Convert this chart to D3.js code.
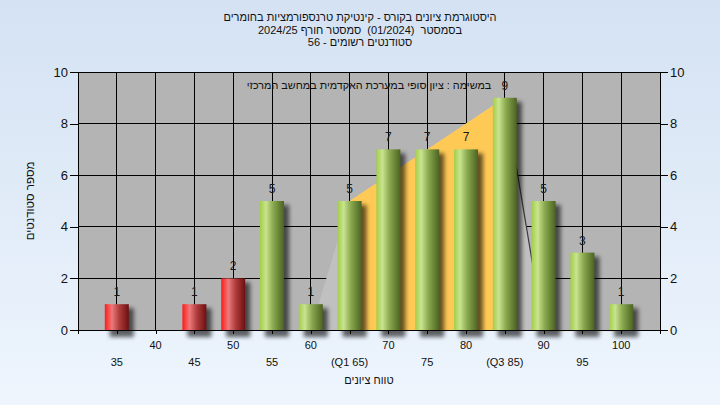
<!DOCTYPE html>
<html><head><meta charset="utf-8">
<script src="https://cdn.jsdelivr.net/npm/d3@7"></script>
<style>
html,body{margin:0;padding:0;overflow:hidden;}
svg{display:block;font-family:"Liberation Sans",Arial,sans-serif;}
text{white-space:pre;}
</style></head>
<body>
<svg id="chart" width="720" height="405"></svg>
<script>
// ---- data ----
const categories = [35,40,45,50,55,60,65,70,75,80,85,90,95,100];
const counts     = [1,0,1,2,5,1,5,7,7,7,9,5,3,1];
const tickLabels = ["35","40","45","50","55","60","(Q1 65)","70","75","80","(Q3 85)","90","95","100"];
const yTicks = [0,2,4,6,8,10];
const passMark = 55;
const q1 = 65, q3 = 85;
const iqrValues = [5,9];             // bar heights at Q1 and Q3
const spreadX = [60,65,85,90];       // light distribution polygon
const spreadY = [0,5,9,0];
const titleLines = [
  "היסטוגרמת ציונים בקורס - קינטיקת טרנספורמציות בחומרים",
  "בסמסטר  (01/2024)  סמסטר חורף 2024/25",
  "סטודנטים רשומים - 56"
];
const noteText = "במשימה : ציון סופי במערכת האקדמית במחשב המרכזי";
const xTitle = "טווח ציונים";
const yTitle = "מספר סטודנטים";

// ---- layout ----
const W = 720, H = 405;
const L = 78, R = 660, T = 72, B = 330;
const svg = d3.select("#chart");
const x = d3.scaleLinear().domain([30,105]).range([L,R]);
const y = d3.scaleLinear().domain([0,10]).range([B,T]);
const barW = 24;

const defs = svg.append("defs");
const bg = defs.append("linearGradient").attr("id","bg").attr("x1",0).attr("y1",0).attr("x2",0).attr("y2",1);
bg.append("stop").attr("offset","0%").attr("stop-color","#d4e2f3");
bg.append("stop").attr("offset","100%").attr("stop-color","#eef5fd");

function cyl(id, stops){
  const g = defs.append("linearGradient").attr("id",id).attr("x1",0).attr("y1",0).attr("x2",1).attr("y2",0);
  stops.forEach(s=>g.append("stop").attr("offset",s[0]).attr("stop-color",s[1]));
}
cyl("green",[["0%","#a3cd48"],["25%","#c8e48f"],["55%","#8aa94e"],["100%","#4b6322"]]);
cyl("red",[["0%","#ff1a1a"],["30%","#ec7a7a"],["60%","#b03c3c"],["100%","#6c1010"]]);
const f = defs.append("filter").attr("id","shadow").attr("x","-50%").attr("y","-50%").attr("width","200%").attr("height","200%");
f.append("feGaussianBlur").attr("stdDeviation",2.2);

svg.append("rect").attr("width",W).attr("height",H).attr("fill","url(#bg)");

// plot background
svg.append("rect").attr("x",L).attr("y",T).attr("width",R-L).attr("height",B-T).attr("fill","#b4b4b4");

// grid
const grid = svg.append("g").attr("stroke","#000").attr("stroke-width",1).attr("shape-rendering","crispEdges");
yTicks.filter(v=>v>0).forEach(v=>grid.append("line").attr("x1",L).attr("x2",R).attr("y1",y(v)).attr("y2",y(v)));
categories.forEach(c=>grid.append("line").attr("x1",x(c)).attr("x2",x(c)).attr("y1",T).attr("y2",B));

// light distribution polygon
const pts = spreadX.map((v,i)=>[x(v),y(spreadY[i])]);
svg.append("path").attr("d",d3.line()(pts)+"Z").attr("fill","#c0c0c0");
// orange IQR area
const iqr = [[x(q1),y(0)],[x(q1),y(iqrValues[0])],[x(q3),y(iqrValues[1])],[x(q3),y(0)]];
svg.append("path").attr("d",d3.line()(iqr)+"Z").attr("fill","#ffc955");
// dark edge line on right side
svg.append("line").attr("x1",pts[2][0]).attr("y1",pts[2][1]).attr("x2",pts[3][0]).attr("y2",pts[3][1])
  .attr("stroke","#3a3a3a").attr("stroke-width",1.2);
svg.append("line").attr("x1",x(90)).attr("x2",x(100)).attr("y1",B+1.5).attr("y2",B+1.5)
  .attr("stroke","#e8e8e8").attr("stroke-width",1);

// note
svg.append("text").attr("x",369).attr("y",89).attr("text-anchor","middle").attr("direction","rtl")
  .attr("font-size",10.8).attr("fill","#111").text(noteText);

// bars
const data = categories.map((c,i)=>({c,v:counts[i]})).filter(d=>d.v>0);
const bars = svg.append("g");
bars.selectAll("rect.sh").data(data).join("rect").attr("class","sh")
  .attr("x",d=>x(d.c)-barW/2+5).attr("y",d=>y(d.v)+4).attr("width",barW).attr("height",d=>B-y(d.v)+3)
  .attr("fill","#000").attr("opacity",0.6).attr("filter","url(#shadow)");
bars.selectAll("rect.b").data(data).join("rect").attr("class","b")
  .attr("x",d=>x(d.c)-barW/2).attr("y",d=>y(d.v)).attr("width",barW).attr("height",d=>B-y(d.v))
  .attr("fill",d=>d.c<passMark?"url(#red)":"url(#green)");
bars.selectAll("text").data(data).join("text")
  .attr("x",d=>x(d.c)).attr("y",d=>y(d.v)-8).attr("text-anchor","middle")
  .attr("font-size",12).attr("fill","#1a1a1a").text(d=>d.v);

// axes lines
const ax = svg.append("g").attr("stroke","#000").attr("stroke-width",1).attr("shape-rendering","crispEdges");
ax.append("line").attr("x1",L).attr("x2",R).attr("y1",B).attr("y2",B);
ax.append("line").attr("x1",L).attr("x2",L).attr("y1",T).attr("y2",B);
ax.append("line").attr("x1",R).attr("x2",R).attr("y1",T).attr("y2",B);
ax.append("line").attr("x1",L).attr("x2",R).attr("y1",T).attr("y2",T);

// y axes
const yl = svg.append("g").attr("transform",`translate(${L},0)`).call(d3.axisLeft(y).tickValues(yTicks).tickSize(8).tickPadding(2).tickFormat(d3.format("d")));
const yr = svg.append("g").attr("transform",`translate(${R},0)`).call(d3.axisRight(y).tickValues(yTicks).tickSize(8).tickPadding(2).tickFormat(d3.format("d")));
[yl,yr].forEach(g=>{
  g.select(".domain").remove();
  g.selectAll("line").attr("stroke","#000").attr("shape-rendering","crispEdges");
  g.selectAll("text").attr("font-size",13).attr("fill","#111").attr("font-family","Liberation Sans, Arial, sans-serif");
});

// x axis
const xt = d3.range(30,106,5);
const xa = svg.append("g").attr("transform",`translate(0,${B})`)
  .call(d3.axisBottom(x).tickValues(xt).tickSize(4).tickFormat(""));
xa.select(".domain").remove();
xa.selectAll("line").attr("stroke","#000").attr("shape-rendering","crispEdges");
svg.append("g").selectAll("text").data(categories).join("text")
  .attr("x",d=>x(d)).attr("y",(d,i)=>i%2===1?349:366).attr("text-anchor","middle")
  .attr("font-size",11).attr("fill","#111").text((d,i)=>tickLabels[i]);

// titles
svg.append("g").selectAll("text").data(titleLines).join("text")
  .attr("x",360).attr("y",(d,i)=>21+i*12.5).attr("text-anchor","middle").attr("direction","rtl")
  .attr("font-size",11).attr("fill","#111").text(d=>d);
svg.append("text").attr("x",(L+R)/2).attr("y",384).attr("text-anchor","middle").attr("direction","rtl")
  .attr("font-size",11).attr("fill","#111").text(xTitle);
svg.append("text").attr("transform",`translate(34,${(T+B)/2}) rotate(-90)`).attr("text-anchor","middle").attr("direction","rtl")
  .attr("font-size",11.5).attr("fill","#111").text(yTitle);
</script>
</body></html>
